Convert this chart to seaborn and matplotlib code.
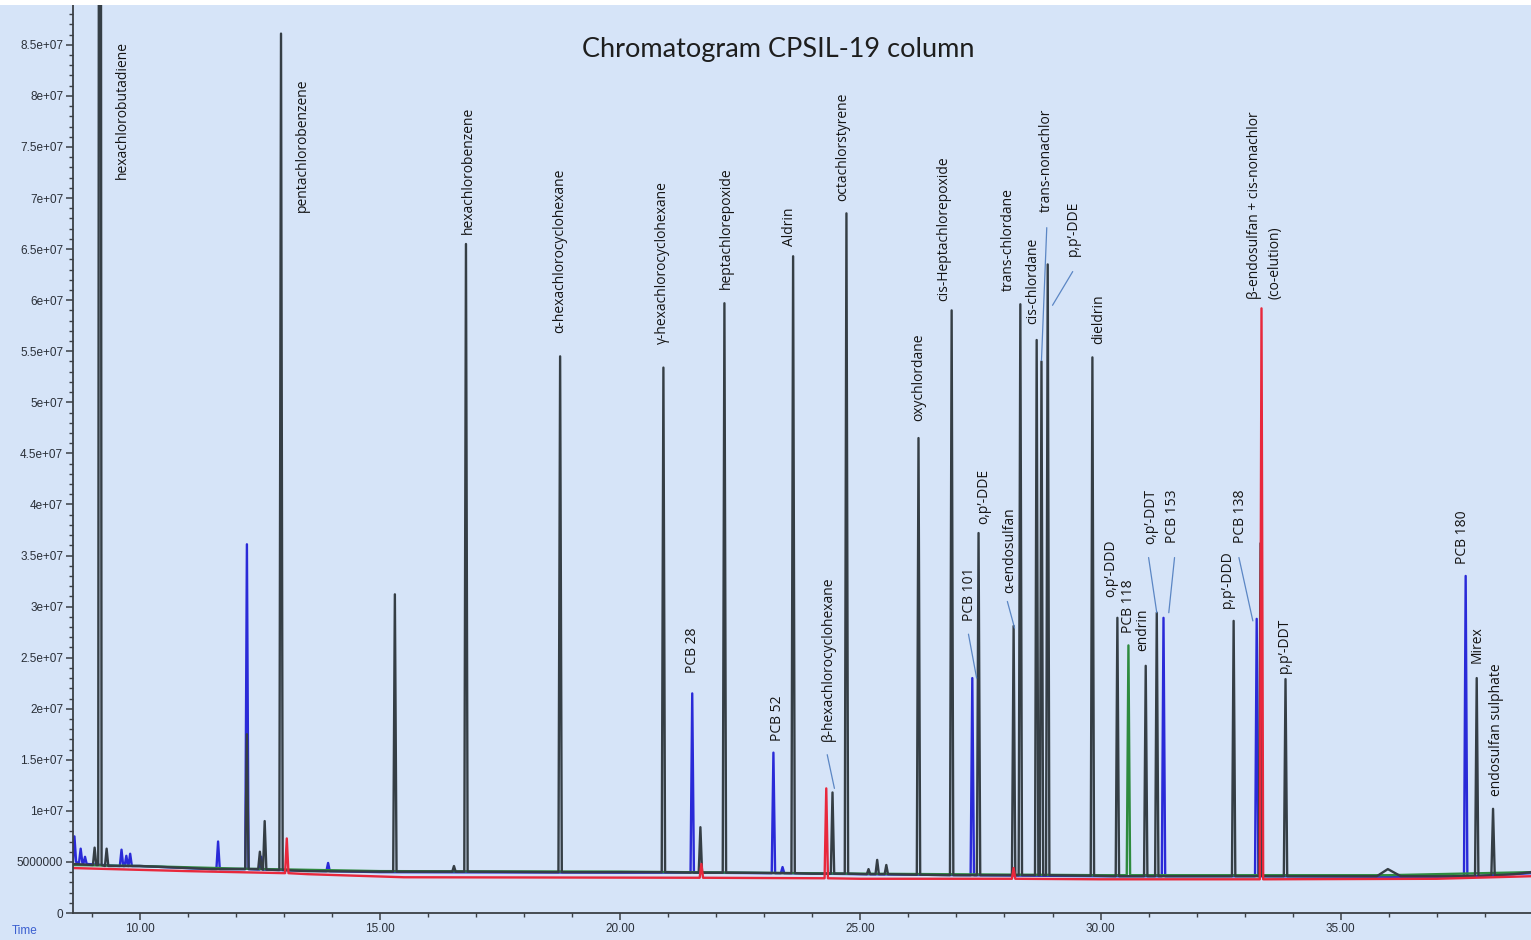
import numpy as np
import pandas as pd
import matplotlib
matplotlib.use('Agg')
import matplotlib.pyplot as plt
import matplotlib.ticker as mticker
from matplotlib.patches import Rectangle
import seaborn as sns

# ---- data (time in min, signal in counts) ----

# black trace: retention time, apex height, level at the foot of the peak
black_rt = [9.06, 9.17, 9.31, 12.23, 12.50, 12.60, 12.94, 15.31, 16.54, 16.79,
            18.75, 20.90, 21.67, 22.17, 23.60, 24.42, 24.71, 25.17, 25.35, 25.54,
            26.21, 26.90, 27.46, 28.19, 28.33, 28.67, 28.77, 28.90, 29.83, 30.35,
            30.94, 31.17, 32.77, 33.33, 33.85, 37.83, 38.17]
black_top = [6.4e6, 2.5e8, 6.3e6, 1.75e7, 6.0e6, 9.0e6, 8.61e7, 3.12e7, 4.6e6, 6.55e7,
             5.45e7, 5.34e7, 8.4e6, 5.97e7, 6.43e7, 1.18e7, 6.85e7, 4.3e6, 5.2e6, 4.7e6,
             4.65e7, 5.90e7, 3.72e7, 2.81e7, 5.96e7, 5.61e7, 5.40e7, 6.35e7, 5.44e7, 2.89e7,
             2.42e7, 2.94e7, 2.86e7, 3.62e7, 2.29e7, 2.30e7, 1.02e7]
black_foot = [4.7e6, 4.7e6, 4.6e6, 4.3e6, 4.3e6, 4.25e6, 4.2e6, 4.05e6, 4.05e6, 4.05e6,
              4.0e6, 4.0e6, 3.95e6, 3.95e6, 3.9e6, 3.85e6, 3.85e6, 3.8e6, 3.8e6, 3.8e6,
              3.75e6, 3.7e6, 3.7e6, 3.7e6, 3.7e6, 3.7e6, 3.7e6, 3.7e6, 3.65e6, 3.6e6,
              3.6e6, 3.6e6, 3.6e6, 3.6e6, 3.6e6, 3.65e6, 3.7e6]
black_base_t = [8.61, 10.0, 11.5, 13.5, 15.0, 20.0, 24.0, 27.0, 31.0, 35.75, 35.98, 36.25, 37.3, 38.6, 38.96]
black_base_v = [4.8e6, 4.6e6, 4.3e6, 4.1e6, 4.05e6, 4.0e6, 3.85e6, 3.7e6, 3.6e6, 3.6e6, 4.3e6, 3.6e6, 3.6e6, 3.8e6, 4.0e6]

blue_rt = [8.64, 8.77, 8.86, 9.62, 9.72, 9.80, 11.63, 12.23, 12.53, 13.92,
           21.50, 23.19, 23.38, 27.33, 31.31, 33.25, 37.60]
blue_top = [7.5e6, 6.3e6, 5.5e6, 6.2e6, 5.6e6, 5.8e6, 7.0e6, 3.61e7, 5.5e6, 4.9e6,
            2.15e7, 1.57e7, 4.5e6, 2.30e7, 2.89e7, 2.88e7, 3.30e7]
blue_foot = [5.0e6, 4.9e6, 4.8e6, 4.6e6, 4.6e6, 4.6e6, 4.3e6, 4.3e6, 4.25e6, 4.1e6,
             3.95e6, 3.9e6, 3.9e6, 3.7e6, 3.6e6, 3.6e6, 3.55e6]
blue_base_t = [8.61, 10.0, 11.5, 15.0, 20.0, 25.0, 30.0, 36.0, 38.96]
blue_base_v = [5.0e6, 4.6e6, 4.3e6, 4.0e6, 3.95e6, 3.8e6, 3.6e6, 3.55e6, 3.9e6]

red_rt = [13.06, 21.69, 24.29, 28.19, 33.35]
red_top = [7.3e6, 4.8e6, 1.22e7, 4.4e6, 5.92e7]
red_foot = [3.9e6, 3.45e6, 3.4e6, 3.35e6, 3.3e6]
red_base_t = [8.61, 11.0, 13.5, 15.5, 25.0, 30.0, 37.0, 38.96]
red_base_v = [4.4e6, 4.1e6, 3.8e6, 3.5e6, 3.35e6, 3.3e6, 3.35e6, 3.6e6]

green_rt = [30.58]
green_top = [2.62e7]
green_foot = [3.7e6]
green_base_t = [8.61, 10.0, 12.0, 15.0, 20.0, 25.0, 30.0, 36.0, 38.96]
green_base_v = [4.7e6, 4.6e6, 4.35e6, 4.1e6, 4.05e6, 3.85e6, 3.7e6, 3.7e6, 4.0e6]

# peak names with the spot where each label starts (time, signal)
labels = [
    ("hexachlorobutadiene", 9.63, 7.19e7),
    ("pentachlorobenzene", 13.38, 6.86e7),
    ("hexachlorobenzene", 16.83, 6.65e7),
    ("α-hexachlorocyclohexane", 18.75, 5.68e7),
    ("γ-hexachlorocyclohexane", 20.88, 5.57e7),
    ("heptachlorepoxide", 22.21, 6.11e7),
    ("Aldrin", 23.52, 6.53e7),
    ("octachlorstyrene", 24.63, 6.97e7),
    ("oxychlordane", 26.21, 4.82e7),
    ("cis-Heptachlorepoxide", 26.73, 5.99e7),
    ("trans-chlordane", 28.08, 6.09e7),
    ("cis-chlordane", 28.58, 5.77e7),
    ("trans-nonachlor", 28.88, 6.86e7),
    ("p,p’-DDE", 29.44, 6.43e7),
    ("dieldrin", 29.96, 5.57e7),
    ("PCB 28", 21.50, 2.35e7),
    ("PCB 52", 23.27, 1.68e7),
    ("β-hexachlorocyclohexane", 24.33, 1.68e7),
    ("PCB 101", 27.27, 2.86e7),
    ("o,p’-DDE", 27.56, 3.81e7),
    ("α-endosulfan", 28.10, 3.13e7),
    ("o,p’-DDD", 30.21, 3.09e7),
    ("PCB 118", 30.58, 2.74e7),
    ("endrin", 30.88, 2.57e7),
    ("o,p’-DDT", 31.04, 3.61e7),
    ("PCB 153", 31.50, 3.62e7),
    ("p,p’-DDD", 32.65, 2.99e7),
    ("PCB 138", 32.92, 3.62e7),
    ("p,p’-DDT", 33.83, 2.35e7),
    ("PCB 180", 37.54, 3.42e7),
    ("Mirex", 37.83, 2.45e7),
    ("endosulfan sulphate", 38.25, 1.15e7),
]
coelution_label = ("β-endosulfan + cis-nonachlor\n(co-elution)", 33.42, 6.01e7)

# thin leader lines from label to peak
leaders = [
    ((27.25, 2.73e7), (27.42, 2.30e7)),
    ((28.06, 3.05e7), (28.21, 2.79e7)),
    ((31.00, 3.48e7), (31.17, 2.94e7)),
    ((31.54, 3.48e7), (31.42, 2.94e7)),
    ((32.88, 3.48e7), (33.17, 2.86e7)),
    ((24.31, 1.55e7), (24.46, 1.22e7)),
    ((28.88, 6.71e7), (28.77, 5.41e7)),
    ((29.42, 6.28e7), (29.00, 5.95e7)),
]

PEAK_HALF_WIDTH = 0.035
BG = '#D6E4F8'


def build_trace(name, base_t, base_v, rt, top, foot):
    # baseline points plus a foot-apex-foot triple for every peak
    t = list(base_t)
    v = list(base_v)
    for r, h, f in zip(rt, top, foot):
        t += [r - PEAK_HALF_WIDTH, r, r + PEAK_HALF_WIDTH]
        v += [f, h, f]
    df = pd.DataFrame({'time': t, 'signal': v})
    df['trace'] = name
    return df


df = pd.concat([
    build_trace('black', black_base_t, black_base_v, black_rt, black_top, black_foot),
    build_trace('green', green_base_t, green_base_v, green_rt, green_top, green_foot),
    build_trace('blue', blue_base_t, blue_base_v, blue_rt, blue_top, blue_foot),
    build_trace('red', red_base_t, red_base_v, red_rt, red_top, red_foot),
], ignore_index=True)

sns.set_style('ticks')
plt.rcParams['font.family'] = ['Open Sans', 'DejaVu Sans']

fig = plt.figure(figsize=(15.31, 9.40), dpi=100, facecolor=BG)
ax = fig.add_axes([73 / 1531, 1 - 913 / 940, 1 - 73 / 1531, 908 / 940])
ax.set_facecolor(BG)

# blue first so the dark baseline stays on top of it, red last
palette = {'black': '#353e45', 'green': '#2e8b3e', 'blue': '#2a2ad8', 'red': '#e8283c'}
sns.lineplot(data=df, x='time', y='signal', hue='trace', hue_order=['blue', 'green', 'black', 'red'],
             palette=palette, estimator=None, sort=True, legend=False, linewidth=1.7, ax=ax)

ax.set_xlim(8.61, 38.96)
ax.set_ylim(0, 8.89e7)

# axes look
for side in ['top', 'right']:
    ax.spines[side].set_visible(False)
for side in ['left', 'bottom']:
    ax.spines[side].set_color('#3a3f45')
    ax.spines[side].set_linewidth(1.3)

ax.xaxis.set_major_locator(mticker.MultipleLocator(5))
ax.xaxis.set_minor_locator(mticker.MultipleLocator(1))
ax.xaxis.set_major_formatter(mticker.FormatStrFormatter('%.2f'))
ax.yaxis.set_major_locator(mticker.MultipleLocator(5e6))
ax.yaxis.set_minor_locator(mticker.MultipleLocator(1e6))
ax.yaxis.set_major_formatter(mticker.FormatStrFormatter('%.7g'))
ax.tick_params(axis='both', which='major', direction='out', length=5, width=1.1, color='#3a3f45',
               labelsize=8.5, labelcolor='#2a2f38', pad=2)
ax.tick_params(axis='both', which='minor', direction='out', length=3, width=1.0, color='#3a3f45')
for lab in ax.get_xticklabels() + ax.get_yticklabels():
    lab.set_family('Liberation Sans')
ax.set_xlabel('')
ax.set_ylabel('')

# peak names
for text, x, y in labels:
    ax.text(x, y, text, rotation=90, ha='center', va='bottom', fontsize=10, color='#141414')
ax.text(coelution_label[1], coelution_label[2], coelution_label[0], rotation=90, ha='center',
        va='bottom', multialignment='left', linespacing=1.5, fontsize=10, color='#141414')

for (x0, y0), (x1, y1) in leaders:
    ax.plot([x0, x1], [y0, y1], color='#5b86c4', linewidth=0.9)

fig.text(778 / 1531, 1 - 50 / 940, 'Chromatogram CPSIL-19 column', ha='center', va='center',
         fontsize=19.5, color='#1e1e1e', family='Lato')
fig.text(12 / 1531, 1 - 931 / 940, 'Time', ha='left', va='center', fontsize=8.5,
         color='#3b5fd0', family='Liberation Sans')

# white strip along the very top
fig.patches.append(Rectangle((0, 1 - 5 / 940), 1, 5 / 940, transform=fig.transFigure,
                             facecolor='white', edgecolor='none', zorder=10))

fig.savefig('out.png', dpi=100, facecolor=BG)
